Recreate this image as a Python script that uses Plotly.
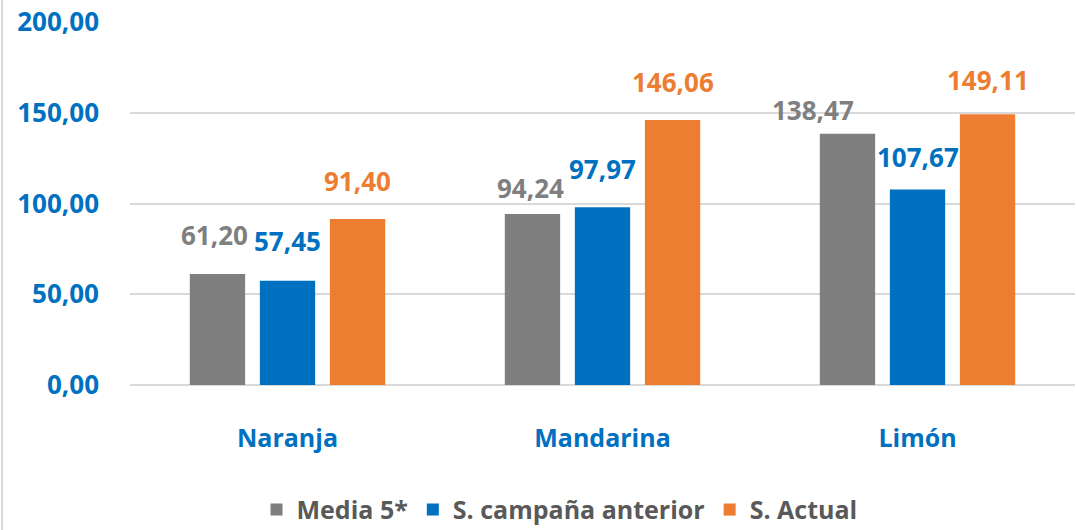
import plotly.graph_objects as go

categories = ["Naranja", "Mandarina", "Limón"]
series_names = ["Media 5*", "S. campaña anterior", "S. Actual"]
media5 = [61.20, 94.24, 138.47]
campana_anterior = [57.45, 97.97, 107.67]
actual = [91.40, 146.06, 149.11]
y_ticks = [0, 50, 100, 150, 200]

colors = ["#7F7F7F", "#0070C0", "#ED7D31"]
FONT = "Open Sans, sans-serif"

# style: label offsets (pixels) per series / category
label_dy = [[19, 6, 4], [20, 18, 13], [18, 18, 14]]
label_dx = [[-3, -2, -34], [0, 0, 0], [0, 0, 0]]

W, H = 1076, 530
ML, MR, MT, MB = 130, 1, 22, 145
BARGAP, GROUPGAP = 0.333, 0.21
plot_w = W - ML - MR
slot_px = plot_w / len(categories) * (1 - BARGAP) / len(series_names)

fig = go.Figure()
all_vals = [media5, campana_anterior, actual]
for name, vals, col in zip(series_names, all_vals, colors):
    fig.add_trace(go.Bar(
        x=categories, y=vals, name=name,
        marker=dict(color=col, line=dict(width=0)),
        hoverinfo="x+y",
    ))

annotations = []
for j, (vals, col) in enumerate(zip(all_vals, colors)):
    for i, (cat, v) in enumerate(zip(categories, vals)):
        annotations.append(dict(
            x=cat, y=v, xref="x", yref="y",
            text=f"{v:.2f}".replace(".", ","),
            showarrow=False, xanchor="center", yanchor="bottom",
            xshift=(j - 1) * slot_px + label_dx[j][i], yshift=label_dy[j][i],
            font=dict(family=FONT, size=26, color=col, weight="bold"),
        ))

fig.update_layout(
    width=W, height=H,
    margin=dict(l=ML, r=MR, t=MT, b=MB),
    paper_bgcolor="white", plot_bgcolor="white",
    separators=",.",
    barmode="group", bargap=BARGAP, bargroupgap=GROUPGAP,
    font=dict(family=FONT),
    annotations=annotations,
    legend=dict(orientation="h", xref="container", yref="container",
                x=0.52, xanchor="center", y=0.038, yanchor="middle",
                font=dict(family=FONT, size=25, color="#595959", weight="bold"),
                itemwidth=30, tracegroupgap=0),
    showlegend=True,
    shapes=[dict(type="line", xref="paper", yref="paper", xsizemode="pixel", xanchor=0,
                 x0=-128, x1=-128, y0=-0.45, y1=1.1,
                 line=dict(color="#D9D9D9", width=2))],
)
fig.update_yaxes(range=[0, 200], tickvals=y_ticks, tickformat=".2f",
                 showgrid=True, gridcolor="#D9D9D9", gridwidth=2,
                 zeroline=True, zerolinecolor="#D9D9D9", zerolinewidth=2,
                 tickfont=dict(family=FONT, size=26, color="#0070C0", weight="bold"),
                 ticklabelstandoff=30, showline=False, fixedrange=True)
fig.update_xaxes(showgrid=False, showline=False,
                 tickfont=dict(family=FONT, size=25, color="#0070C0", weight="bold"),
                 ticklabelstandoff=36, fixedrange=True)

fig.write_html("out.html", config={"displayModeBar": False},
               post_script="document.body.style.margin='0';document.body.style.overflow='hidden';")
